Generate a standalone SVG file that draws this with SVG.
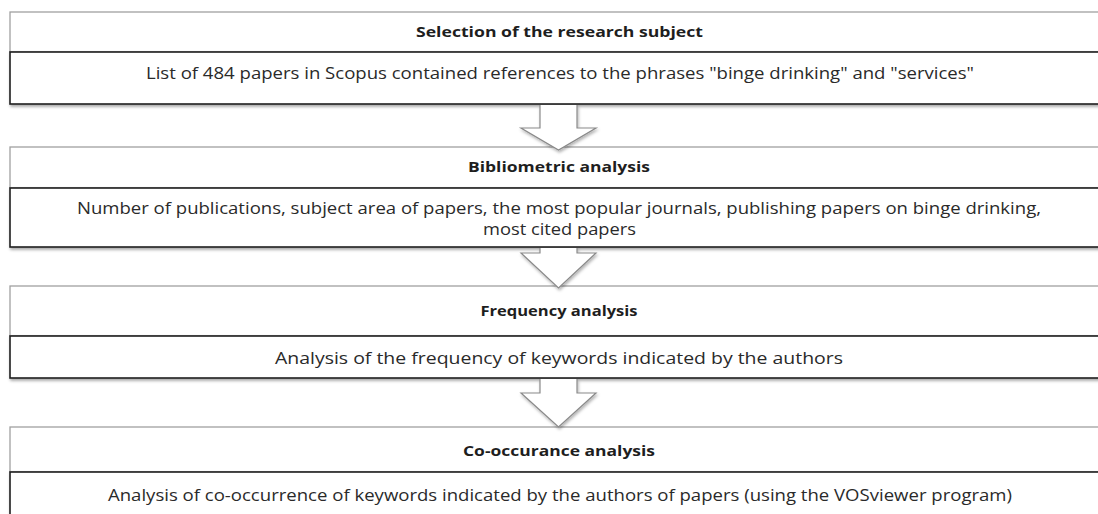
<svg xmlns="http://www.w3.org/2000/svg" width="1098" height="514" viewBox="0 0 1098 514">
<defs>
<filter id="sh" x="-5%" y="-20%" width="110%" height="150%">
<feDropShadow dx="1" dy="2" stdDeviation="1.5" flood-color="#000" flood-opacity="0.35"/>
</filter>
<filter id="sha" x="-30%" y="-30%" width="160%" height="160%">
<feDropShadow dx="1" dy="2" stdDeviation="1.5" flood-color="#000" flood-opacity="0.3"/>
</filter>
</defs>
<style>
.head{fill:#fff;stroke:#a0a0a0;stroke-width:1.3}
.body{fill:#fff;stroke:#1e1e1e;stroke-width:1.6}
.t{font-family:"Open Sans","Noto Sans",sans-serif;font-weight:bold;font-size:15px;fill:#1e1e1e;text-anchor:middle;dominant-baseline:central}
.c{font-family:"Open Sans","Noto Sans",sans-serif;font-size:16.5px;fill:#2a2a2a;text-anchor:middle;dominant-baseline:central}
.af{fill:#fff;stroke:none}
.as{fill:none;stroke:#8a8a8a;stroke-width:1.2;stroke-linejoin:miter}
</style>
<g id="node1">
<rect class="head" x="10" y="12" width="1100" height="40"/>
<rect class="body" filter="url(#sh)" x="10" y="52" width="1100" height="52"/>
<text class="t" x="559.5" y="31" textLength="287" lengthAdjust="spacingAndGlyphs">Selection of the research subject</text>
<text class="c" x="560" y="72" textLength="828" lengthAdjust="spacingAndGlyphs">List of 484 papers in Scopus contained references to the phrases "binge drinking" and "services"</text>
</g>
<g id="node2">
<rect class="head" x="10" y="147" width="1100" height="41"/>
<rect class="body" filter="url(#sh)" x="10" y="188" width="1100" height="59"/>
<text class="t" x="559" y="166" textLength="182" lengthAdjust="spacingAndGlyphs">Bibliometric analysis</text>
<text class="c" x="559" y="207" textLength="964" lengthAdjust="spacingAndGlyphs">Number of publications, subject area of papers, the most popular journals, publishing papers on binge drinking,</text>
<text class="c" x="559.5" y="228" textLength="153" lengthAdjust="spacingAndGlyphs">most cited papers</text>
</g>
<g id="node3">
<rect class="head" x="10" y="286" width="1100" height="50"/>
<rect class="body" filter="url(#sh)" x="10" y="336" width="1100" height="42"/>
<text class="t" x="559" y="310" textLength="157" lengthAdjust="spacingAndGlyphs">Frequency analysis</text>
<text class="c" x="559" y="357" textLength="568" lengthAdjust="spacingAndGlyphs">Analysis of the frequency of keywords indicated by the authors</text>
</g>
<g id="node4">
<rect class="head" x="10" y="427" width="1100" height="45"/>
<rect class="body" filter="url(#sh)" x="10" y="472" width="1100" height="60"/>
<text class="t" x="559" y="450" textLength="192" lengthAdjust="spacingAndGlyphs">Co-occurance analysis</text>
<text class="c" x="560" y="494" textLength="904" lengthAdjust="spacingAndGlyphs">Analysis of co-occurrence of keywords indicated by the authors of papers (using the VOSviewer program)</text>
</g>
<g id="connectors">
<g filter="url(#sha)">
<path class="af" d="M540,105 L577,105 L577,128 L596,128 L558.5,150 L521,128 L540,128 Z"/>
<path class="as" d="M577,105 L577,128 L596,128 L558.5,150 L521,128 L540,128 L540,105"/>
</g>
<g filter="url(#sha)">
<path class="af" d="M540,248 L577,248 L577,253 L596,253 L558.5,288 L521,253 L540,253 Z"/>
<path class="as" d="M577,248 L577,253 L596,253 L558.5,288 L521,253 L540,253 L540,248"/>
</g>
<g filter="url(#sha)">
<path class="af" d="M540,379 L577,379 L577,393 L596,393 L558.5,427 L521,393 L540,393 Z"/>
<path class="as" d="M577,379 L577,393 L596,393 L558.5,427 L521,393 L540,393 L540,379"/>
</g>
</g>
</svg>
